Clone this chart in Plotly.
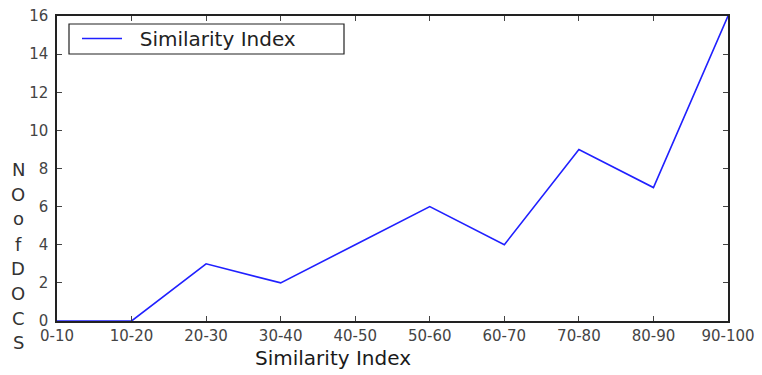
import plotly.graph_objects as go

categories = ["0-10", "10-20", "20-30", "30-40", "40-50", "50-60", "60-70", "70-80", "80-90", "90-100"]
no_of_docs = [0, 0, 3, 2, 4, 6, 4, 9, 7, 16]
y_ticks = [0, 2, 4, 6, 8, 10, 12, 14, 16]
series_name = "Similarity Index"
x_title = "Similarity Index"
y_title_letters = ["N", "O", "o", "f", "D", "O", "C", "S"]

W, H = 762, 375
L, R, T, B = 57, 34, 16, 54
pw, ph = W - L - R, H - T - B


def px_x(x):
    return (x - L) / pw


def px_y(y):
    return (H - B - y) / ph


fig = go.Figure()
fig.add_trace(go.Scatter(
    x=list(range(len(categories))), y=no_of_docs, mode="lines",
    name="\u00a0\u00a0" + series_name,
    line=dict(color="#2020ff", width=1.6),
))

axis_common = dict(
    showgrid=False, zeroline=False, showline=True, linecolor="#222", linewidth=1.5,
    mirror="ticks", ticks="inside", ticklen=5, tickcolor="#444", tickwidth=1,
    tickfont=dict(family="DejaVu Sans", size=15, color="#444"),
    automargin=False,
)

fig.update_layout(
    width=W, height=H,
    margin=dict(l=L, r=R, t=T, b=B),
    paper_bgcolor="white", plot_bgcolor="white",
    font=dict(family="DejaVu Sans"),
    xaxis=dict(range=[0, len(categories) - 1], tickmode="array",
               tickvals=list(range(len(categories))), ticktext=categories, **axis_common),
    yaxis=dict(range=[0, 16], tickmode="array", tickvals=y_ticks,
               ticktext=[str(v) for v in y_ticks], ticklabelstandoff=4, **axis_common),
    showlegend=True,
    legend=dict(x=px_x(77), y=px_y(19), xanchor="left", yanchor="top",
                bgcolor="rgba(0,0,0,0)", borderwidth=0,
                font=dict(family="DejaVu Sans", size=20, color="#222"),
                itemwidth=40, tracegroupgap=0),
    shapes=[dict(type="rect", xref="paper", yref="paper",
                 x0=px_x(69), x1=px_x(344), y0=px_y(54), y1=px_y(24),
                 line=dict(color="#222", width=1.2), fillcolor="white", layer="below")],
)

annotations = [dict(
    text=x_title, xref="paper", yref="paper",
    x=px_x(333), y=px_y(358), xanchor="center", yanchor="middle",
    showarrow=False, font=dict(family="DejaVu Sans", size=20, color="#1a1a1a"),
)]
letter_y = [169, 194, 219, 244, 268, 293, 318, 342]
for ch, yy in zip(y_title_letters, letter_y):
    annotations.append(dict(
        text=ch, xref="paper", yref="paper",
        x=px_x(18), y=px_y(yy), xanchor="center", yanchor="middle",
        showarrow=False, font=dict(family="DejaVu Sans", size=18, color="#333"),
    ))
fig.update_layout(annotations=annotations)

fig.write_html("out.html", config={"displayModeBar": False},
               post_script="document.body.style.margin='0';")
